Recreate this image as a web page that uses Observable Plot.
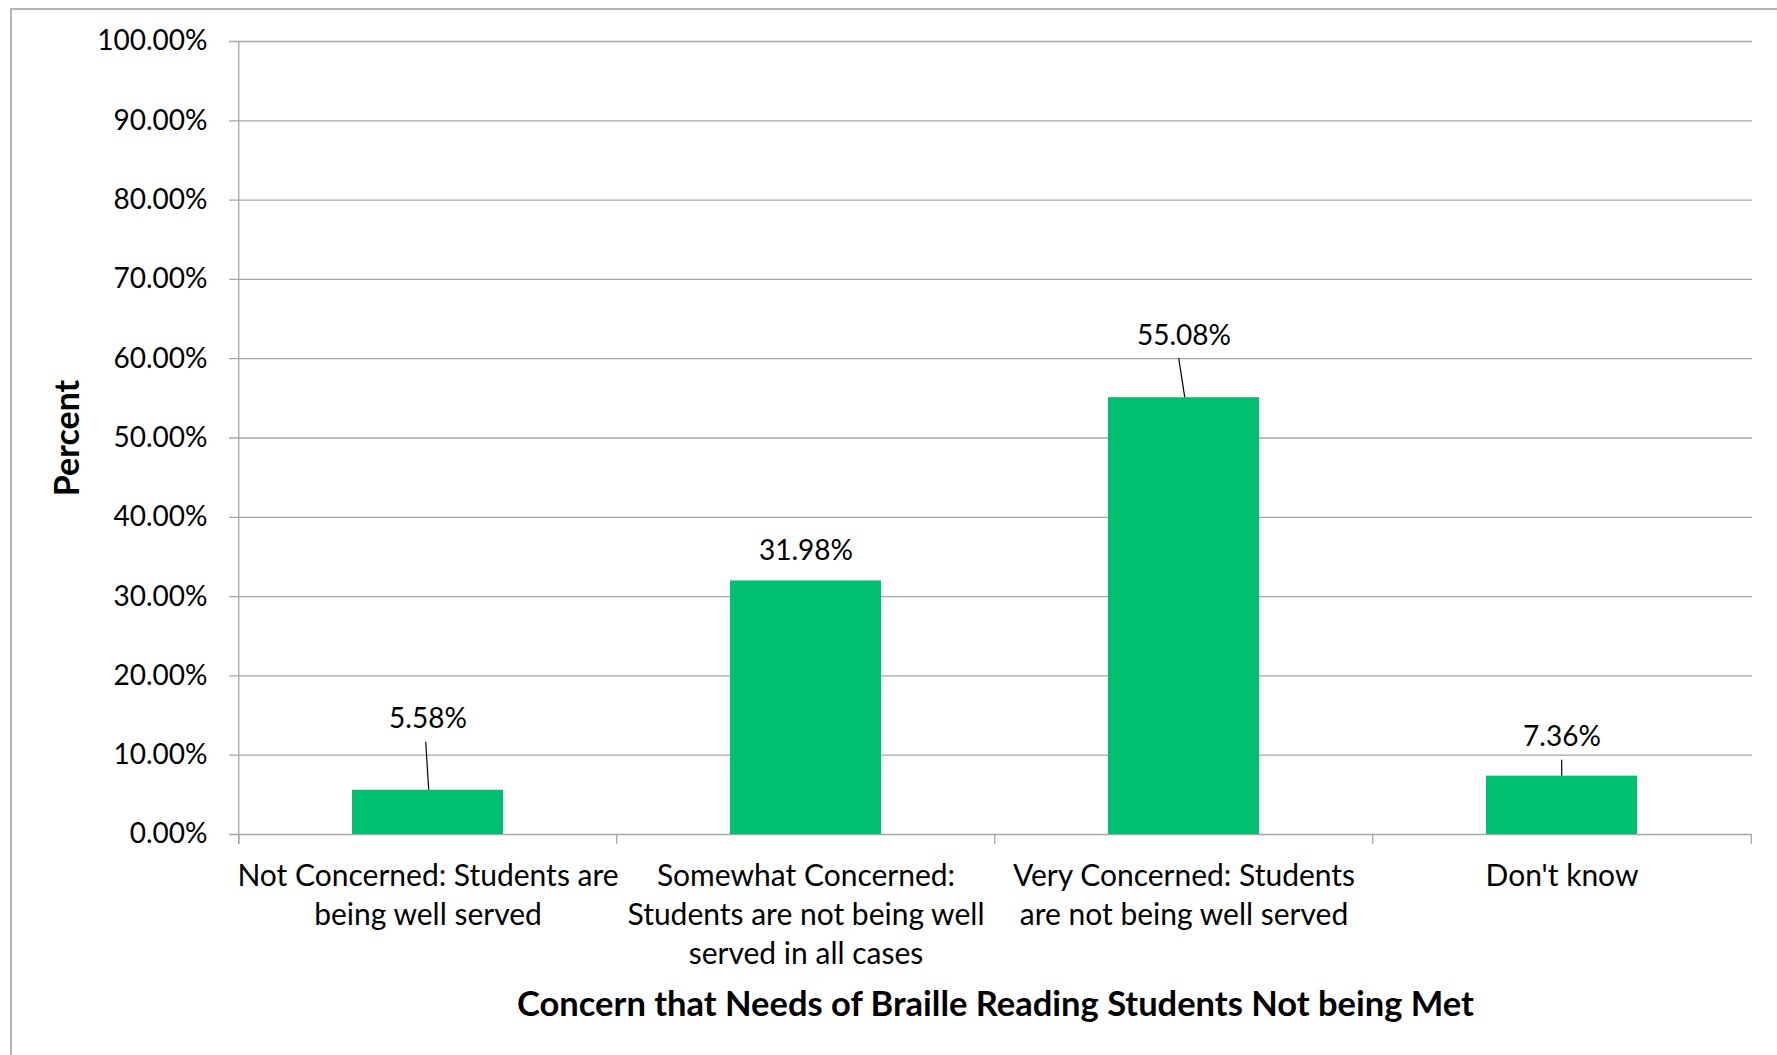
<!DOCTYPE html>
<html>
<head>
<meta charset="utf-8">
<script src="https://cdn.jsdelivr.net/npm/d3@7"></script>
<script src="https://cdn.jsdelivr.net/npm/@observablehq/plot@0.6"></script>
<style>
  html, body { margin: 0; padding: 0; background: #fff; }
  #chart { position: relative; width: 1777px; height: 1055px; overflow: hidden; }
  #chart svg { position: absolute; left: 0; top: 0; }
  #frame {
    position: absolute; left: 10px; top: 8px; right: -10px; bottom: -10px;
    border-left: 2px solid #b4b4b4; border-top: 2px solid #b4b4b4;
    pointer-events: none;
  }
</style>
</head>
<body>
<div id="chart"><div id="frame"></div></div>
<script>
// Survey responses: concern that needs of braille reading students are not being met
const categories = [
  "Not Concerned: Students are being well served",
  "Somewhat Concerned: Students are not being well served in all cases",
  "Very Concerned: Students are not being well served",
  "Don't know"
];
const tickLabels = [
  "Not Concerned: Students are\nbeing well served",
  "Somewhat Concerned:\nStudents are not being well\nserved in all cases",
  "Very Concerned: Students\nare not being well served",
  "Don't know"
];
const percents = [5.58, 31.98, 55.08, 7.36];
const yTicks = [0, 10, 20, 30, 40, 50, 60, 70, 80, 90, 100];

const data = categories.map((c, i) => ({category: c, label: tickLabels[i], value: percents[i]}));

// Layout
const width = 1777, height = 1055;
const marginLeft = 238, marginRight = 25, marginTop = 41, marginBottom = 221;
const pxPerUnit = (height - marginTop - marginBottom) / 100;
const step = (width - marginLeft - marginRight) / categories.length;
const paddingInner = 0.6, paddingOuter = 0.3;
const bandwidth = step * (1 - paddingInner);
const tickLen = 10;
// vertical distance (px) from bar top to label centre, and label/leader x shift
const labelLift = [71, 30, 62, 39];
const labelShift = [-2, 0, -5, 0];
const leaderGap = 23;

const font = "Lato, 'Open Sans', sans-serif";
const grid = "#a6a6a6";
const green = "#00bf6f";

const fmtPct = d => d.toFixed(2) + "%";

const chart = Plot.plot({
  width, height, marginLeft, marginRight, marginTop, marginBottom,
  style: {fontFamily: font, fontSize: "28px", color: "#000", background: "transparent"},
  x: {domain: categories, paddingInner, paddingOuter, axis: null},
  y: {domain: [0, 100], axis: null},
  marks: [
    // horizontal gridlines with their tick stubs
    Plot.ruleY(yTicks, {stroke: grid, strokeWidth: 1.3, insetLeft: -9}),
    // category separators below the axis
    Plot.ruleX(categories, {x: d => d, dx: -step / 2, y1: 0, y2: -tickLen / pxPerUnit, stroke: grid, strokeWidth: 1.3}),
    Plot.ruleX([categories[categories.length - 1]], {x: d => d, dx: step / 2, y1: 0, y2: -tickLen / pxPerUnit, stroke: grid, strokeWidth: 1.3}),
    // vertical axis line
    Plot.ruleX([categories[0]], {x: d => d, dx: -step / 2, y1: -tickLen / pxPerUnit, y2: 100, stroke: grid, strokeWidth: 1.3}),
    // y tick labels
    Plot.text(yTicks, {
      y: d => d, frameAnchor: "left", dx: -31, textAnchor: "end",
      text: fmtPct, fontSize: 28, fill: "#000"
    }),
    // bars
    Plot.barY(data, {x: "category", y: "value", fill: green}),
    // leader lines from value labels to bar tops
    (index, scales) => {
      const g = d3.create("svg:g");
      data.forEach((d, i) => {
        const lift = labelLift[i];
        if (lift - leaderGap < 12) return;
        const cx = scales.x(d.category) + bandwidth / 2;
        const top = scales.y(d.value);
        g.append("line")
          .attr("x1", cx + labelShift[i]).attr("y1", top - lift + leaderGap)
          .attr("x2", cx + (labelShift[i] ? 1 : 0)).attr("y2", top)
          .attr("stroke", "#000").attr("stroke-width", 1.2);
      });
      return g.node();
    },
    // value labels
    Plot.text(data, {
      x: "category",
      y: (d, i) => d.value + labelLift[i] / pxPerUnit,
      text: d => fmtPct(d.value),
      fontSize: 28, fill: "#000"
    }),
    // category labels
    Plot.text(data, {
      x: "category", y: 0, text: "label",
      lineAnchor: "top", dy: 24, lineHeight: 1.3, fontSize: 30, fill: "#000"
    }),
    // axis titles
    Plot.text(["Concern that Needs of Braille Reading Students Not being Met"], {
      frameAnchor: "bottom", lineAnchor: "middle", dy: 170, text: d => d,
      fontWeight: "bold", fontSize: 34.5, fill: "#000"
    }),
    Plot.text(["Percent"], {
      frameAnchor: "left", textAnchor: "middle", lineAnchor: "middle", dx: -170, rotate: -90, text: d => d,
      fontWeight: "bold", fontSize: 34, fill: "#000"
    })
  ]
});

document.getElementById("chart").prepend(chart);
</script>
</body>
</html>
